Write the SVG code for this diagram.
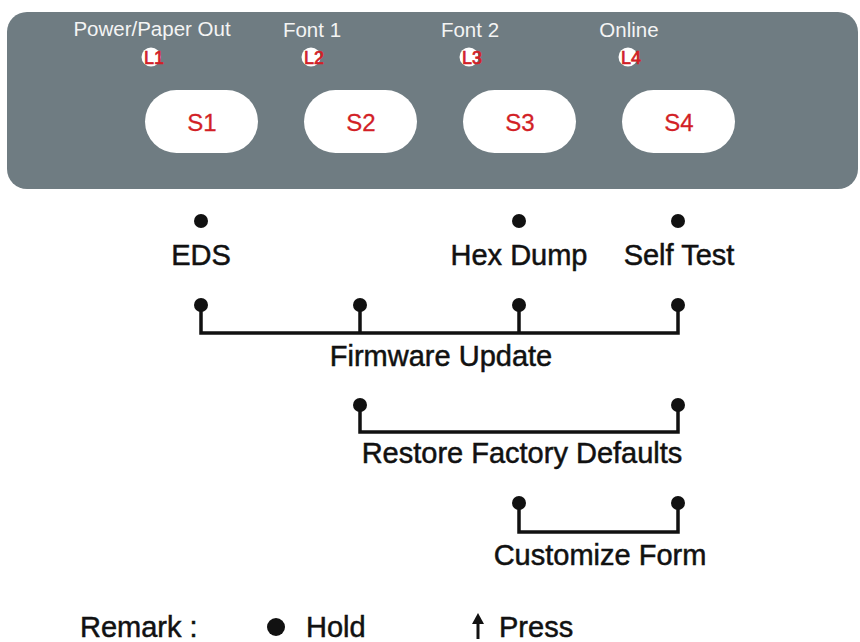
<svg xmlns="http://www.w3.org/2000/svg" width="860" height="642" viewBox="0 0 860 642">
<defs>
<style>
.panel{fill:#6f7c82}
.btn{fill:#ffffff}
.btxt{font-family:"Liberation Sans",Arial,sans-serif;font-size:24px;fill:#d21f26;text-anchor:middle;stroke:#d21f26;stroke-width:0.3}
.led{fill:#ffffff}
.ltxt{font-family:"Liberation Sans",Arial,sans-serif;font-size:18px;fill:#d21f26;stroke:#d21f26;stroke-width:0.7}
.ptxt{font-family:"Liberation Sans",Arial,sans-serif;font-size:20.5px;fill:#f4f4f4;text-anchor:middle}
.lbl{font-family:"Liberation Sans",Arial,sans-serif;font-size:29px;fill:#111111;text-anchor:middle;stroke:#111111;stroke-width:0.5}
.dot{fill:#111111}
.wire{fill:none;stroke:#111111;stroke-width:3.5;stroke-linejoin:miter}
</style>
</defs>
<rect width="860" height="642" fill="#ffffff"/>
<g id="panel">
<rect class="panel" x="7" y="12" width="851" height="177" rx="20"/>
</g>
<g id="key1">
<text class="ptxt" x="152" y="36">Power/Paper Out</text>
<circle class="led" cx="151" cy="57" r="9.5"/>
<text class="ltxt" x="144" y="64">L1</text>
<rect class="btn" x="145" y="90" width="113" height="63" rx="31.5"/>
<text class="btxt" x="202" y="131">S1</text>
</g>
<g id="key2">
<text class="ptxt" x="312" y="37">Font 1</text>
<circle class="led" cx="311" cy="57" r="9.5"/>
<text class="ltxt" x="304" y="64">L2</text>
<rect class="btn" x="304" y="90" width="113" height="63" rx="31.5"/>
<text class="btxt" x="361" y="131">S2</text>
</g>
<g id="key3">
<text class="ptxt" x="470" y="37">Font 2</text>
<circle class="led" cx="469" cy="57" r="9.5"/>
<text class="ltxt" x="462" y="64">L3</text>
<rect class="btn" x="463" y="90" width="113" height="63" rx="31.5"/>
<text class="btxt" x="520" y="131">S3</text>
</g>
<g id="key4">
<text class="ptxt" x="629" y="37">Online</text>
<circle class="led" cx="628" cy="57" r="9.5"/>
<text class="ltxt" x="621" y="64">L4</text>
<rect class="btn" x="622" y="90" width="113" height="63" rx="31.5"/>
<text class="btxt" x="679" y="131">S4</text>
</g>
<g id="connectors">
<path class="wire" d="M201 305 V333 H678 V305 M360 305 V333 M519 305 V333"/>
<path class="wire" d="M360 405 V432 H678 V405"/>
<path class="wire" d="M519 503 V532 H678 V503"/>
</g>
<g id="eds">
<circle class="dot" cx="201" cy="221" r="7"/>
<text class="lbl" x="201" y="265">EDS</text>
</g>
<g id="hexdump">
<circle class="dot" cx="519" cy="221" r="7"/>
<text class="lbl" x="519" y="265">Hex Dump</text>
</g>
<g id="selftest">
<circle class="dot" cx="678" cy="221" r="7"/>
<text class="lbl" x="679" y="265">Self Test</text>
</g>
<g id="firmware">
<circle class="dot" cx="201" cy="305" r="7"/>
<circle class="dot" cx="360" cy="305" r="7"/>
<circle class="dot" cx="519" cy="305" r="7"/>
<circle class="dot" cx="678" cy="305" r="7"/>
<text class="lbl" x="441" y="366">Firmware Update</text>
</g>
<g id="restore">
<circle class="dot" cx="360" cy="405" r="7"/>
<circle class="dot" cx="678" cy="405" r="7"/>
<text class="lbl" x="522" y="463">Restore Factory Defaults</text>
</g>
<g id="customize">
<circle class="dot" cx="519" cy="503" r="7"/>
<circle class="dot" cx="678" cy="503" r="7"/>
<text class="lbl" x="600" y="565">Customize Form</text>
</g>
<g id="remark">
<text class="lbl" x="80" y="637" style="text-anchor:start">Remark :</text>
<circle class="dot" cx="276" cy="627" r="9"/>
<text class="lbl" x="306" y="637" style="text-anchor:start">Hold</text>
<path class="dot" d="M478 613 L484 624 L472 624 Z"/>
<line x1="478" y1="622" x2="478" y2="639" stroke="#111111" stroke-width="3"/>
<text class="lbl" x="499" y="637" style="text-anchor:start">Press</text>
</g>
</svg>
